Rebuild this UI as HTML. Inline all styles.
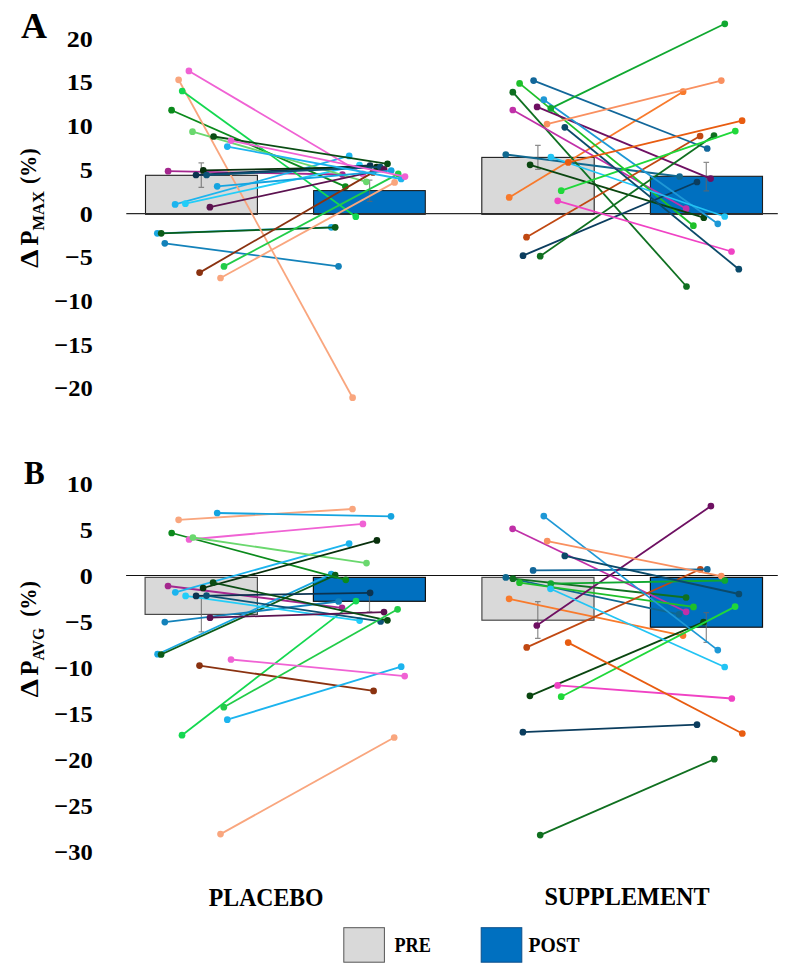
<!DOCTYPE html><html><head><meta charset="utf-8"><style>html,body{margin:0;padding:0;background:#fff;}svg{display:block;}text{font-family:"Liberation Serif",serif;font-weight:bold;fill:#000;}</style></head><body>
<svg width="793" height="977" viewBox="0 0 793 977">
<text x="20.9" y="38" font-size="36">A</text>
<text x="24.0" y="484" font-size="34.6" textLength="20.7" lengthAdjust="spacingAndGlyphs">B</text>
<text x="66.83" y="46.7" font-size="23.7" textLength="26.07" lengthAdjust="spacingAndGlyphs">20</text>
<text x="66.83" y="90.4" font-size="23.7" textLength="26.07" lengthAdjust="spacingAndGlyphs">15</text>
<text x="66.83" y="134.1" font-size="23.7" textLength="26.07" lengthAdjust="spacingAndGlyphs">10</text>
<text x="79.87" y="177.8" font-size="23.7" textLength="13.04" lengthAdjust="spacingAndGlyphs">5</text>
<text x="79.87" y="221.5" font-size="23.7" textLength="13.04" lengthAdjust="spacingAndGlyphs">0</text>
<text x="65.01" y="265.2" font-size="23.7" textLength="27.89" lengthAdjust="spacingAndGlyphs">−5</text>
<text x="54.39" y="308.9" font-size="23.7" textLength="38.51" lengthAdjust="spacingAndGlyphs">−10</text>
<text x="54.39" y="352.6" font-size="23.7" textLength="38.51" lengthAdjust="spacingAndGlyphs">−15</text>
<text x="54.39" y="396.3" font-size="23.7" textLength="38.51" lengthAdjust="spacingAndGlyphs">−20</text>
<text x="66.83" y="492.3" font-size="23.7" textLength="26.07" lengthAdjust="spacingAndGlyphs">10</text>
<text x="79.87" y="538.2" font-size="23.7" textLength="13.04" lengthAdjust="spacingAndGlyphs">5</text>
<text x="79.87" y="584.2" font-size="23.7" textLength="13.04" lengthAdjust="spacingAndGlyphs">0</text>
<text x="65.01" y="630.1" font-size="23.7" textLength="27.89" lengthAdjust="spacingAndGlyphs">−5</text>
<text x="54.39" y="676.1" font-size="23.7" textLength="38.51" lengthAdjust="spacingAndGlyphs">−10</text>
<text x="54.39" y="722.0" font-size="23.7" textLength="38.51" lengthAdjust="spacingAndGlyphs">−15</text>
<text x="54.39" y="768.0" font-size="23.7" textLength="38.51" lengthAdjust="spacingAndGlyphs">−20</text>
<text x="54.39" y="813.9" font-size="23.7" textLength="38.51" lengthAdjust="spacingAndGlyphs">−25</text>
<text x="54.39" y="859.9" font-size="23.7" textLength="38.51" lengthAdjust="spacingAndGlyphs">−30</text>
<g transform="translate(38.1,267.6) rotate(-90)"><text x="-0.4" y="0" font-size="24.5" textLength="18.5" lengthAdjust="spacingAndGlyphs">Δ</text><text x="22.2" y="0" font-size="24.5">P</text><text x="37.05" y="6.2" font-size="16.6" textLength="39.6" lengthAdjust="spacingAndGlyphs">MAX</text><text x="83.5" y="-2" font-size="23" textLength="35.6" lengthAdjust="spacingAndGlyphs">(%)</text></g>
<g transform="translate(38.0,697.0) rotate(-90)"><text x="-0.4" y="0" font-size="24.5" textLength="18.5" lengthAdjust="spacingAndGlyphs">Δ</text><text x="21.6" y="0" font-size="24.5">P</text><text x="36.4" y="6.2" font-size="16.6" textLength="32.6" lengthAdjust="spacingAndGlyphs">AVG</text><text x="80.2" y="-2" font-size="23" textLength="35.6" lengthAdjust="spacingAndGlyphs">(%)</text></g>
<rect x="145.50" y="175.30" width="111.90" height="38.30" fill="#d9d9d9" stroke="#1e1e1e" stroke-width="1.1"/>
<line x1="145.0" y1="213.95" x2="257.9" y2="213.95" stroke="#000" stroke-width="1.8"/>
<rect x="313.60" y="190.60" width="111.70" height="23.00" fill="#0070c0" stroke="#1e1e1e" stroke-width="1.1"/>
<line x1="313.1" y1="213.95" x2="425.8" y2="213.95" stroke="#000" stroke-width="1.8"/>
<rect x="481.80" y="157.40" width="112.40" height="56.20" fill="#d9d9d9" stroke="#1e1e1e" stroke-width="1.1"/>
<line x1="481.3" y1="213.95" x2="594.7" y2="213.95" stroke="#000" stroke-width="1.8"/>
<rect x="650.40" y="176.30" width="112.10" height="37.30" fill="#0070c0" stroke="#1e1e1e" stroke-width="1.1"/>
<line x1="649.9" y1="213.95" x2="763.0" y2="213.95" stroke="#000" stroke-width="1.8"/>
<rect x="145.10" y="577.40" width="112.30" height="37.00" fill="#d9d9d9" stroke="#4a4a4a" stroke-width="1.2"/>
<rect x="313.40" y="577.40" width="112.00" height="23.90" fill="#0070c0" stroke="#111" stroke-width="1.2"/>
<rect x="481.90" y="577.40" width="112.10" height="42.80" fill="#d9d9d9" stroke="#4a4a4a" stroke-width="1.2"/>
<rect x="650.40" y="577.40" width="112.10" height="49.80" fill="#0070c0" stroke="#111" stroke-width="1.2"/>
<line x1="126.3" y1="213.6" x2="777.8" y2="213.6" stroke="#2a2a2a" stroke-width="1.1"/>
<line x1="126.1" y1="575.5" x2="777.8" y2="575.5" stroke="#111" stroke-width="1.2"/>
<path d="M198.5,162.8H204.1M201.3,162.8V187.3M198.5,187.3H204.1" stroke="#666" stroke-opacity="0.75" stroke-width="1.2" fill="none"/>
<path d="M366.8,180.2H372.4M369.6,180.2V201.3M366.8,201.3H372.4" stroke="#666" stroke-opacity="0.75" stroke-width="1.2" fill="none"/>
<path d="M535.1,145.3H540.7M537.9,145.3V169.3M535.1,169.3H540.7" stroke="#666" stroke-opacity="0.75" stroke-width="1.2" fill="none"/>
<path d="M703.5,162.3H709.1M706.3,162.3V190.9M703.5,190.9H709.1" stroke="#666" stroke-opacity="0.75" stroke-width="1.2" fill="none"/>
<path d="M198.6,596.9H204.2M201.4,596.9V631.9M198.6,631.9H204.2" stroke="#666" stroke-opacity="0.75" stroke-width="1.2" fill="none"/>
<path d="M366.7,590.8H372.3M369.5,590.8V611.8M366.7,611.8H372.3" stroke="#666" stroke-opacity="0.75" stroke-width="1.2" fill="none"/>
<path d="M535.0,601.6H540.6M537.8,601.6V638.4M535.0,638.4H540.6" stroke="#666" stroke-opacity="0.75" stroke-width="1.2" fill="none"/>
<path d="M703.5,612.7H709.1M706.3,612.7V642.4M703.5,642.4H709.1" stroke="#666" stroke-opacity="0.75" stroke-width="1.2" fill="none"/>
<g fill="#a4278e" stroke="#a4278e"><line x1="168.1" y1="171.2" x2="342.4" y2="174.5" stroke-width="1.8"/><circle cx="168.1" cy="171.2" r="3.35" stroke="none"/><circle cx="342.4" cy="174.5" r="3.35" stroke="none"/></g>
<g fill="#18a8e2" stroke="#18a8e2"><line x1="157.3" y1="233.3" x2="331.3" y2="227.3" stroke-width="1.8"/><circle cx="157.3" cy="233.3" r="3.35" stroke="none"/><circle cx="331.3" cy="227.3" r="3.35" stroke="none"/></g>
<g fill="#0b5c18" stroke="#0b5c18"><line x1="161.2" y1="233.3" x2="335.2" y2="227.3" stroke-width="1.8"/><circle cx="161.2" cy="233.3" r="3.35" stroke="none"/><circle cx="335.2" cy="227.3" r="3.35" stroke="none"/></g>
<g fill="#1382ba" stroke="#1382ba"><line x1="164.8" y1="243.3" x2="338.5" y2="266.3" stroke-width="1.8"/><circle cx="164.8" cy="243.3" r="3.35" stroke="none"/><circle cx="338.5" cy="266.3" r="3.35" stroke="none"/></g>
<g fill="#0b8a1c" stroke="#0b8a1c"><line x1="171.6" y1="110.2" x2="345.4" y2="186.6" stroke-width="1.8"/><circle cx="171.6" cy="110.2" r="3.35" stroke="none"/><circle cx="345.4" cy="186.6" r="3.35" stroke="none"/></g>
<g fill="#1cb4ee" stroke="#1cb4ee"><line x1="175.1" y1="204.4" x2="349.2" y2="155.9" stroke-width="1.8"/><circle cx="175.1" cy="204.4" r="3.35" stroke="none"/><circle cx="349.2" cy="155.9" r="3.35" stroke="none"/></g>
<g fill="#f9a67e" stroke="#f9a67e"><line x1="178.6" y1="79.8" x2="352.6" y2="397.7" stroke-width="1.8"/><circle cx="178.6" cy="79.8" r="3.35" stroke="none"/><circle cx="352.6" cy="397.7" r="3.35" stroke="none"/></g>
<g fill="#14d850" stroke="#14d850"><line x1="182.2" y1="91.0" x2="355.8" y2="216.7" stroke-width="1.8"/><circle cx="182.2" cy="91.0" r="3.35" stroke="none"/><circle cx="355.8" cy="216.7" r="3.35" stroke="none"/></g>
<g fill="#22cdf8" stroke="#22cdf8"><line x1="185.4" y1="203.7" x2="359.5" y2="165.1" stroke-width="1.8"/><circle cx="185.4" cy="203.7" r="3.35" stroke="none"/><circle cx="359.5" cy="165.1" r="3.35" stroke="none"/></g>
<g fill="#f062d4" stroke="#f062d4"><line x1="188.9" y1="70.9" x2="362.9" y2="173.9" stroke-width="1.8"/><circle cx="188.9" cy="70.9" r="3.35" stroke="none"/><circle cx="362.9" cy="173.9" r="3.35" stroke="none"/></g>
<g fill="#6ad86e" stroke="#6ad86e"><line x1="192.5" y1="131.7" x2="366.3" y2="181.8" stroke-width="1.8"/><circle cx="192.5" cy="131.7" r="3.35" stroke="none"/><circle cx="366.3" cy="181.8" r="3.35" stroke="none"/></g>
<g fill="#0b3350" stroke="#0b3350"><line x1="196.0" y1="175.0" x2="370.1" y2="165.5" stroke-width="1.8"/><circle cx="196.0" cy="175.0" r="3.35" stroke="none"/><circle cx="370.1" cy="165.5" r="3.35" stroke="none"/></g>
<g fill="#8a3210" stroke="#8a3210"><line x1="199.6" y1="272.6" x2="373.0" y2="172.4" stroke-width="1.8"/><circle cx="199.6" cy="272.6" r="3.35" stroke="none"/><circle cx="373.0" cy="172.4" r="3.35" stroke="none"/></g>
<g fill="#08300c" stroke="#08300c"><line x1="203.3" y1="170.4" x2="376.6" y2="167.0" stroke-width="1.8"/><circle cx="203.3" cy="170.4" r="3.35" stroke="none"/><circle cx="376.6" cy="167.0" r="3.35" stroke="none"/></g>
<g fill="#0c5275" stroke="#0c5275"><line x1="206.6" y1="175.0" x2="380.3" y2="167.0" stroke-width="1.8"/><circle cx="206.6" cy="175.0" r="3.35" stroke="none"/><circle cx="380.3" cy="167.0" r="3.35" stroke="none"/></g>
<g fill="#5c1250" stroke="#5c1250"><line x1="209.9" y1="207.2" x2="384.1" y2="169.3" stroke-width="1.8"/><circle cx="209.9" cy="207.2" r="3.35" stroke="none"/><circle cx="384.1" cy="169.3" r="3.35" stroke="none"/></g>
<g fill="#0a4d14" stroke="#0a4d14"><line x1="213.6" y1="136.5" x2="387.5" y2="163.8" stroke-width="1.8"/><circle cx="213.6" cy="136.5" r="3.35" stroke="none"/><circle cx="387.5" cy="163.8" r="3.35" stroke="none"/></g>
<g fill="#14a4e0" stroke="#14a4e0"><line x1="217.2" y1="186.3" x2="391.2" y2="170.6" stroke-width="1.8"/><circle cx="217.2" cy="186.3" r="3.35" stroke="none"/><circle cx="391.2" cy="170.6" r="3.35" stroke="none"/></g>
<g fill="#f9a67e" stroke="#f9a67e"><line x1="220.5" y1="278.0" x2="394.6" y2="182.4" stroke-width="1.8"/><circle cx="220.5" cy="278.0" r="3.35" stroke="none"/><circle cx="394.6" cy="182.4" r="3.35" stroke="none"/></g>
<g fill="#22cc48" stroke="#22cc48"><line x1="224.0" y1="266.4" x2="398.2" y2="173.9" stroke-width="1.8"/><circle cx="224.0" cy="266.4" r="3.35" stroke="none"/><circle cx="398.2" cy="173.9" r="3.35" stroke="none"/></g>
<g fill="#1cb4ee" stroke="#1cb4ee"><line x1="227.3" y1="146.6" x2="401.2" y2="179.0" stroke-width="1.8"/><circle cx="227.3" cy="146.6" r="3.35" stroke="none"/><circle cx="401.2" cy="179.0" r="3.35" stroke="none"/></g>
<g fill="#f062d4" stroke="#f062d4"><line x1="231.0" y1="140.6" x2="405.0" y2="176.6" stroke-width="1.8"/><circle cx="231.0" cy="140.6" r="3.35" stroke="none"/><circle cx="405.0" cy="176.6" r="3.35" stroke="none"/></g>
<g fill="#10688f" stroke="#10688f"><line x1="505.8" y1="154.5" x2="679.6" y2="176.5" stroke-width="1.8"/><circle cx="505.8" cy="154.5" r="3.35" stroke="none"/><circle cx="679.6" cy="176.5" r="3.35" stroke="none"/></g>
<g fill="#f87a2c" stroke="#f87a2c"><line x1="509.2" y1="197.4" x2="683.1" y2="91.7" stroke-width="1.8"/><circle cx="509.2" cy="197.4" r="3.35" stroke="none"/><circle cx="683.1" cy="91.7" r="3.35" stroke="none"/></g>
<g fill="#0f7021" stroke="#0f7021"><line x1="512.8" y1="92.2" x2="686.5" y2="286.5" stroke-width="1.8"/><circle cx="512.8" cy="92.2" r="3.35" stroke="none"/><circle cx="686.5" cy="286.5" r="3.35" stroke="none"/></g>
<g fill="#c030a8" stroke="#c030a8"><line x1="512.8" y1="110.0" x2="686.2" y2="208.7" stroke-width="1.8"/><circle cx="512.8" cy="110.0" r="3.35" stroke="none"/><circle cx="686.2" cy="208.7" r="3.35" stroke="none"/></g>
<g fill="#1ec02a" stroke="#1ec02a"><line x1="519.6" y1="83.4" x2="693.4" y2="225.7" stroke-width="1.8"/><circle cx="519.6" cy="83.4" r="3.35" stroke="none"/><circle cx="693.4" cy="225.7" r="3.35" stroke="none"/></g>
<g fill="#0b3d5e" stroke="#0b3d5e"><line x1="523.0" y1="255.7" x2="697.0" y2="182.0" stroke-width="1.8"/><circle cx="523.0" cy="255.7" r="3.35" stroke="none"/><circle cx="697.0" cy="182.0" r="3.35" stroke="none"/></g>
<g fill="#c04812" stroke="#c04812"><line x1="526.5" y1="237.2" x2="700.1" y2="136.0" stroke-width="1.8"/><circle cx="526.5" cy="237.2" r="3.35" stroke="none"/><circle cx="700.1" cy="136.0" r="3.35" stroke="none"/></g>
<g fill="#0a4610" stroke="#0a4610"><line x1="530.1" y1="164.8" x2="703.8" y2="217.7" stroke-width="1.8"/><circle cx="530.1" cy="164.8" r="3.35" stroke="none"/><circle cx="703.8" cy="217.7" r="3.35" stroke="none"/></g>
<g fill="#12679a" stroke="#12679a"><line x1="533.6" y1="80.6" x2="707.2" y2="148.5" stroke-width="1.8"/><circle cx="533.6" cy="80.6" r="3.35" stroke="none"/><circle cx="707.2" cy="148.5" r="3.35" stroke="none"/></g>
<g fill="#6e1062" stroke="#6e1062"><line x1="537.1" y1="106.9" x2="710.6" y2="178.6" stroke-width="1.8"/><circle cx="537.1" cy="106.9" r="3.35" stroke="none"/><circle cx="710.6" cy="178.6" r="3.35" stroke="none"/></g>
<g fill="#107020" stroke="#107020"><line x1="540.2" y1="256.2" x2="714.0" y2="135.6" stroke-width="1.8"/><circle cx="540.2" cy="256.2" r="3.35" stroke="none"/><circle cx="714.0" cy="135.6" r="3.35" stroke="none"/></g>
<g fill="#1e98d6" stroke="#1e98d6"><line x1="543.8" y1="99.7" x2="717.8" y2="223.8" stroke-width="1.8"/><circle cx="543.8" cy="99.7" r="3.35" stroke="none"/><circle cx="717.8" cy="223.8" r="3.35" stroke="none"/></g>
<g fill="#f99060" stroke="#f99060"><line x1="547.0" y1="124.1" x2="721.3" y2="80.6" stroke-width="1.8"/><circle cx="547.0" cy="124.1" r="3.35" stroke="none"/><circle cx="721.3" cy="80.6" r="3.35" stroke="none"/></g>
<g fill="#10a830" stroke="#10a830"><line x1="550.8" y1="108.4" x2="724.8" y2="23.8" stroke-width="1.8"/><circle cx="550.8" cy="108.4" r="3.35" stroke="none"/><circle cx="724.8" cy="23.8" r="3.35" stroke="none"/></g>
<g fill="#22c4f4" stroke="#22c4f4"><line x1="550.9" y1="157.0" x2="724.7" y2="216.5" stroke-width="1.8"/><circle cx="550.9" cy="157.0" r="3.35" stroke="none"/><circle cx="724.7" cy="216.5" r="3.35" stroke="none"/></g>
<g fill="#f042c4" stroke="#f042c4"><line x1="557.7" y1="200.8" x2="731.5" y2="251.5" stroke-width="1.8"/><circle cx="557.7" cy="200.8" r="3.35" stroke="none"/><circle cx="731.5" cy="251.5" r="3.35" stroke="none"/></g>
<g fill="#20d83a" stroke="#20d83a"><line x1="561.2" y1="190.7" x2="735.3" y2="131.1" stroke-width="1.8"/><circle cx="561.2" cy="190.7" r="3.35" stroke="none"/><circle cx="735.3" cy="131.1" r="3.35" stroke="none"/></g>
<g fill="#0b4a6a" stroke="#0b4a6a"><line x1="564.8" y1="127.3" x2="738.8" y2="269.2" stroke-width="1.8"/><circle cx="564.8" cy="127.3" r="3.35" stroke="none"/><circle cx="738.8" cy="269.2" r="3.35" stroke="none"/></g>
<g fill="#e85c10" stroke="#e85c10"><line x1="568.2" y1="162.4" x2="742.1" y2="120.7" stroke-width="1.8"/><circle cx="568.2" cy="162.4" r="3.35" stroke="none"/><circle cx="742.1" cy="120.7" r="3.35" stroke="none"/></g>
<g fill="#a4278e" stroke="#a4278e"><line x1="168.0" y1="586.0" x2="342.0" y2="607.8" stroke-width="1.8"/><circle cx="168.0" cy="586.0" r="3.35" stroke="none"/><circle cx="342.0" cy="607.8" r="3.35" stroke="none"/></g>
<g fill="#18a8e2" stroke="#18a8e2"><line x1="157.6" y1="654.2" x2="331.2" y2="574.1" stroke-width="1.8"/><circle cx="157.6" cy="654.2" r="3.35" stroke="none"/><circle cx="331.2" cy="574.1" r="3.35" stroke="none"/></g>
<g fill="#0b5c18" stroke="#0b5c18"><line x1="161.1" y1="654.5" x2="335.2" y2="575.2" stroke-width="1.8"/><circle cx="161.1" cy="654.5" r="3.35" stroke="none"/><circle cx="335.2" cy="575.2" r="3.35" stroke="none"/></g>
<g fill="#1382ba" stroke="#1382ba"><line x1="164.8" y1="622.1" x2="338.6" y2="601.5" stroke-width="1.8"/><circle cx="164.8" cy="622.1" r="3.35" stroke="none"/><circle cx="338.6" cy="601.5" r="3.35" stroke="none"/></g>
<g fill="#0b8a1c" stroke="#0b8a1c"><line x1="171.7" y1="533.0" x2="345.8" y2="579.8" stroke-width="1.8"/><circle cx="171.7" cy="533.0" r="3.35" stroke="none"/><circle cx="345.8" cy="579.8" r="3.35" stroke="none"/></g>
<g fill="#1cb4ee" stroke="#1cb4ee"><line x1="175.3" y1="592.3" x2="349.1" y2="543.6" stroke-width="1.8"/><circle cx="175.3" cy="592.3" r="3.35" stroke="none"/><circle cx="349.1" cy="543.6" r="3.35" stroke="none"/></g>
<g fill="#f9a67e" stroke="#f9a67e"><line x1="178.6" y1="519.8" x2="352.5" y2="509.0" stroke-width="1.8"/><circle cx="178.6" cy="519.8" r="3.35" stroke="none"/><circle cx="352.5" cy="509.0" r="3.35" stroke="none"/></g>
<g fill="#14d850" stroke="#14d850"><line x1="182.0" y1="735.2" x2="356.0" y2="601.1" stroke-width="1.8"/><circle cx="182.0" cy="735.2" r="3.35" stroke="none"/><circle cx="356.0" cy="601.1" r="3.35" stroke="none"/></g>
<g fill="#22cdf8" stroke="#22cdf8"><line x1="185.6" y1="595.9" x2="359.6" y2="620.6" stroke-width="1.8"/><circle cx="185.6" cy="595.9" r="3.35" stroke="none"/><circle cx="359.6" cy="620.6" r="3.35" stroke="none"/></g>
<g fill="#f062d4" stroke="#f062d4"><line x1="189.1" y1="539.5" x2="362.9" y2="523.9" stroke-width="1.8"/><circle cx="189.1" cy="539.5" r="3.35" stroke="none"/><circle cx="362.9" cy="523.9" r="3.35" stroke="none"/></g>
<g fill="#6ad86e" stroke="#6ad86e"><line x1="192.9" y1="537.5" x2="366.5" y2="563.1" stroke-width="1.8"/><circle cx="192.9" cy="537.5" r="3.35" stroke="none"/><circle cx="366.5" cy="563.1" r="3.35" stroke="none"/></g>
<g fill="#0b3350" stroke="#0b3350"><line x1="196.1" y1="595.9" x2="370.1" y2="592.8" stroke-width="1.8"/><circle cx="196.1" cy="595.9" r="3.35" stroke="none"/><circle cx="370.1" cy="592.8" r="3.35" stroke="none"/></g>
<g fill="#8a3210" stroke="#8a3210"><line x1="199.5" y1="665.6" x2="373.6" y2="690.9" stroke-width="1.8"/><circle cx="199.5" cy="665.6" r="3.35" stroke="none"/><circle cx="373.6" cy="690.9" r="3.35" stroke="none"/></g>
<g fill="#08300c" stroke="#08300c"><line x1="203.1" y1="588.0" x2="376.9" y2="540.4" stroke-width="1.8"/><circle cx="203.1" cy="588.0" r="3.35" stroke="none"/><circle cx="376.9" cy="540.4" r="3.35" stroke="none"/></g>
<g fill="#0c5275" stroke="#0c5275"><line x1="206.5" y1="595.6" x2="380.6" y2="621.4" stroke-width="1.8"/><circle cx="206.5" cy="595.6" r="3.35" stroke="none"/><circle cx="380.6" cy="621.4" r="3.35" stroke="none"/></g>
<g fill="#5c1250" stroke="#5c1250"><line x1="210.0" y1="617.7" x2="384.0" y2="612.1" stroke-width="1.8"/><circle cx="210.0" cy="617.7" r="3.35" stroke="none"/><circle cx="384.0" cy="612.1" r="3.35" stroke="none"/></g>
<g fill="#0a4d14" stroke="#0a4d14"><line x1="213.1" y1="582.6" x2="387.4" y2="620.3" stroke-width="1.8"/><circle cx="213.1" cy="582.6" r="3.35" stroke="none"/><circle cx="387.4" cy="620.3" r="3.35" stroke="none"/></g>
<g fill="#14a4e0" stroke="#14a4e0"><line x1="217.2" y1="513.0" x2="391.0" y2="516.3" stroke-width="1.8"/><circle cx="217.2" cy="513.0" r="3.35" stroke="none"/><circle cx="391.0" cy="516.3" r="3.35" stroke="none"/></g>
<g fill="#f9a67e" stroke="#f9a67e"><line x1="220.5" y1="834.1" x2="394.2" y2="737.5" stroke-width="1.8"/><circle cx="220.5" cy="834.1" r="3.35" stroke="none"/><circle cx="394.2" cy="737.5" r="3.35" stroke="none"/></g>
<g fill="#22cc48" stroke="#22cc48"><line x1="223.8" y1="707.2" x2="397.6" y2="609.3" stroke-width="1.8"/><circle cx="223.8" cy="707.2" r="3.35" stroke="none"/><circle cx="397.6" cy="609.3" r="3.35" stroke="none"/></g>
<g fill="#1cb4ee" stroke="#1cb4ee"><line x1="227.3" y1="719.7" x2="401.2" y2="666.7" stroke-width="1.8"/><circle cx="227.3" cy="719.7" r="3.35" stroke="none"/><circle cx="401.2" cy="666.7" r="3.35" stroke="none"/></g>
<g fill="#f062d4" stroke="#f062d4"><line x1="231.0" y1="659.5" x2="404.7" y2="676.1" stroke-width="1.8"/><circle cx="231.0" cy="659.5" r="3.35" stroke="none"/><circle cx="404.7" cy="676.1" r="3.35" stroke="none"/></g>
<g fill="#10688f" stroke="#10688f"><line x1="505.8" y1="577.4" x2="679.1" y2="614.3" stroke-width="1.8"/><circle cx="505.8" cy="577.4" r="3.35" stroke="none"/><circle cx="679.1" cy="614.3" r="3.35" stroke="none"/></g>
<g fill="#f87a2c" stroke="#f87a2c"><line x1="509.1" y1="598.8" x2="683.0" y2="635.6" stroke-width="1.8"/><circle cx="509.1" cy="598.8" r="3.35" stroke="none"/><circle cx="683.0" cy="635.6" r="3.35" stroke="none"/></g>
<g fill="#0f7021" stroke="#0f7021"><line x1="512.9" y1="578.7" x2="686.1" y2="597.5" stroke-width="1.8"/><circle cx="512.9" cy="578.7" r="3.35" stroke="none"/><circle cx="686.1" cy="597.5" r="3.35" stroke="none"/></g>
<g fill="#c030a8" stroke="#c030a8"><line x1="512.6" y1="528.8" x2="686.1" y2="611.8" stroke-width="1.8"/><circle cx="512.6" cy="528.8" r="3.35" stroke="none"/><circle cx="686.1" cy="611.8" r="3.35" stroke="none"/></g>
<g fill="#1ec02a" stroke="#1ec02a"><line x1="519.5" y1="582.7" x2="693.5" y2="606.9" stroke-width="1.8"/><circle cx="519.5" cy="582.7" r="3.35" stroke="none"/><circle cx="693.5" cy="606.9" r="3.35" stroke="none"/></g>
<g fill="#0b3d5e" stroke="#0b3d5e"><line x1="522.9" y1="732.2" x2="697.0" y2="724.7" stroke-width="1.8"/><circle cx="522.9" cy="732.2" r="3.35" stroke="none"/><circle cx="697.0" cy="724.7" r="3.35" stroke="none"/></g>
<g fill="#c04812" stroke="#c04812"><line x1="526.7" y1="647.4" x2="700.3" y2="569.3" stroke-width="1.8"/><circle cx="526.7" cy="647.4" r="3.35" stroke="none"/><circle cx="700.3" cy="569.3" r="3.35" stroke="none"/></g>
<g fill="#0a4610" stroke="#0a4610"><line x1="529.9" y1="695.8" x2="703.5" y2="622.2" stroke-width="1.8"/><circle cx="529.9" cy="695.8" r="3.35" stroke="none"/><circle cx="703.5" cy="622.2" r="3.35" stroke="none"/></g>
<g fill="#12679a" stroke="#12679a"><line x1="533.1" y1="570.4" x2="707.3" y2="569.4" stroke-width="1.8"/><circle cx="533.1" cy="570.4" r="3.35" stroke="none"/><circle cx="707.3" cy="569.4" r="3.35" stroke="none"/></g>
<g fill="#6e1062" stroke="#6e1062"><line x1="536.8" y1="625.5" x2="710.9" y2="506.1" stroke-width="1.8"/><circle cx="536.8" cy="625.5" r="3.35" stroke="none"/><circle cx="710.9" cy="506.1" r="3.35" stroke="none"/></g>
<g fill="#107020" stroke="#107020"><line x1="540.2" y1="835.1" x2="714.3" y2="759.2" stroke-width="1.8"/><circle cx="540.2" cy="835.1" r="3.35" stroke="none"/><circle cx="714.3" cy="759.2" r="3.35" stroke="none"/></g>
<g fill="#1e98d6" stroke="#1e98d6"><line x1="543.8" y1="516.1" x2="717.8" y2="650.1" stroke-width="1.8"/><circle cx="543.8" cy="516.1" r="3.35" stroke="none"/><circle cx="717.8" cy="650.1" r="3.35" stroke="none"/></g>
<g fill="#f99060" stroke="#f99060"><line x1="547.2" y1="541.1" x2="721.3" y2="576.1" stroke-width="1.8"/><circle cx="547.2" cy="541.1" r="3.35" stroke="none"/><circle cx="721.3" cy="576.1" r="3.35" stroke="none"/></g>
<g fill="#10a830" stroke="#10a830"><line x1="550.8" y1="583.7" x2="724.8" y2="580.5" stroke-width="1.8"/><circle cx="550.8" cy="583.7" r="3.35" stroke="none"/><circle cx="724.8" cy="580.5" r="3.35" stroke="none"/></g>
<g fill="#22c4f4" stroke="#22c4f4"><line x1="550.5" y1="588.8" x2="724.7" y2="667.0" stroke-width="1.8"/><circle cx="550.5" cy="588.8" r="3.35" stroke="none"/><circle cx="724.7" cy="667.0" r="3.35" stroke="none"/></g>
<g fill="#f042c4" stroke="#f042c4"><line x1="557.6" y1="685.4" x2="731.8" y2="698.5" stroke-width="1.8"/><circle cx="557.6" cy="685.4" r="3.35" stroke="none"/><circle cx="731.8" cy="698.5" r="3.35" stroke="none"/></g>
<g fill="#20d83a" stroke="#20d83a"><line x1="561.2" y1="696.7" x2="735.1" y2="606.6" stroke-width="1.8"/><circle cx="561.2" cy="696.7" r="3.35" stroke="none"/><circle cx="735.1" cy="606.6" r="3.35" stroke="none"/></g>
<g fill="#0b4a6a" stroke="#0b4a6a"><line x1="564.8" y1="555.9" x2="738.9" y2="594.0" stroke-width="1.8"/><circle cx="564.8" cy="555.9" r="3.35" stroke="none"/><circle cx="738.9" cy="594.0" r="3.35" stroke="none"/></g>
<g fill="#e85c10" stroke="#e85c10"><line x1="568.2" y1="642.6" x2="742.3" y2="733.5" stroke-width="1.8"/><circle cx="568.2" cy="642.6" r="3.35" stroke="none"/><circle cx="742.3" cy="733.5" r="3.35" stroke="none"/></g>
<text x="208.8" y="906" font-size="24.5" textLength="114.8" lengthAdjust="spacingAndGlyphs">PLACEBO</text>
<text x="544.4" y="905.3" font-size="24.5" textLength="165.2" lengthAdjust="spacingAndGlyphs">SUPPLEMENT</text>
<rect x="343.8" y="927.7" width="40.6" height="34.5" fill="#d9d9d9" stroke="#555" stroke-width="1"/>
<text x="394.4" y="952.2" font-size="21" textLength="36.4" lengthAdjust="spacingAndGlyphs">PRE</text>
<rect x="481.2" y="927.7" width="40.6" height="34.5" fill="#0070c0" stroke="#0a4f8a" stroke-width="1"/>
<text x="528.4" y="952.2" font-size="21" textLength="51.3" lengthAdjust="spacingAndGlyphs">POST</text>
</svg></body></html>
